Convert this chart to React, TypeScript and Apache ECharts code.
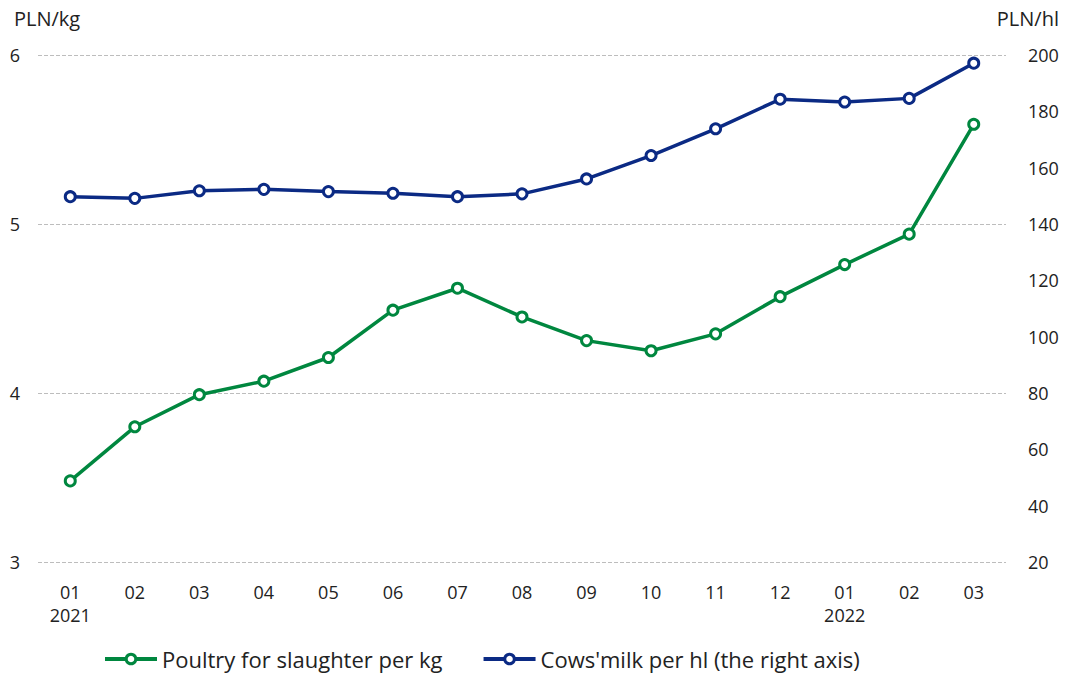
import React, { useEffect, useRef } from "react";
import * as echarts from "echarts";

const categories = ["01\n2021", "02", "03", "04", "05", "06", "07", "08", "09", "10", "11", "12", "01\n2022", "02", "03"];
const poultry = [3.48, 3.8, 3.99, 4.07, 4.21, 4.49, 4.62, 4.45, 4.31, 4.25, 4.35, 4.57, 4.76, 4.94, 5.59];
const milk = [149.7, 149.1, 151.8, 152.3, 151.5, 150.9, 149.7, 150.7, 156.0, 164.3, 173.8, 184.3, 183.3, 184.6, 197.1];
const leftName = "PLN/kg";
const rightName = "PLN/hl";
const poultryName = "Poultry for slaughter per kg";
const milkName = "Cows'milk per hl (the right axis)";

const GREEN = "#00873f";
const NAVY = "#0b2a84";
const FONT = "'Open Sans', 'Noto Sans', sans-serif";

export default function App() {
  const ref = useRef<HTMLDivElement>(null);
  useEffect(() => {
    const chart = echarts.init(ref.current!, null, { renderer: "svg" });
    chart.setOption({
      animation: false,
      backgroundColor: "#ffffff",
      textStyle: { fontFamily: FONT },
      grid: { left: 38, right: 63, top: 55, bottom: 112 },
      graphic: [
        { type: "text", left: 14, top: 8, style: { text: leftName, fontSize: 20, fill: "#222", fontFamily: FONT } },
        { type: "text", right: 10, top: 8, style: { text: rightName, fontSize: 20, fill: "#222", fontFamily: FONT } },
      ],
      legend: {
        top: 648,
        left: 103,
        padding: 0,
        itemWidth: 52,
        itemHeight: 12,
        itemGap: 39,
        textStyle: { fontSize: 22, color: "#222", fontFamily: FONT },
        lineStyle: { width: 4 },
        itemStyle: { borderWidth: 3 },
        data: [poultryName, milkName],
      },
      xAxis: {
        type: "category",
        data: categories,
        boundaryGap: true,
        axisLine: { show: false },
        axisTick: { show: false },
        axisLabel: { fontSize: 18, color: "#222", margin: 18, lineHeight: 23, fontFamily: FONT },
      },
      yAxis: [
        {
          type: "value",
          min: 3,
          max: 6,
          interval: 1,
          axisLine: { show: false },
          axisTick: { show: false },
          axisLabel: { fontSize: 18, color: "#222", margin: 18, fontFamily: FONT },
          splitLine: { lineStyle: { color: "#bdbdbd", type: [4, 2], width: 1 } },
        },
        {
          type: "value",
          min: 20,
          max: 200,
          interval: 20,
          axisLine: { show: false },
          axisTick: { show: false },
          axisLabel: { fontSize: 18, color: "#222", margin: 22, fontFamily: FONT },
          splitLine: { show: false },
        },
      ],
      series: [
        {
          name: poultryName,
          type: "line",
          data: poultry,
          yAxisIndex: 0,
          symbol: "circle",
          symbolSize: 10,
          lineStyle: { color: GREEN, width: 3.5 },
          itemStyle: { color: "#ffffff", borderColor: GREEN, borderWidth: 3 },
          z: 3,
        },
        {
          name: milkName,
          type: "line",
          data: milk,
          yAxisIndex: 1,
          symbol: "circle",
          symbolSize: 10,
          lineStyle: { color: NAVY, width: 3.5 },
          itemStyle: { color: "#ffffff", borderColor: NAVY, borderWidth: 3 },
          z: 3,
        },
      ],
    });
    return () => chart.dispose();
  }, []);
  return <div ref={ref} style={{ position: "absolute", left: 0, top: 0, width: 1069, height: 674 }} />;
}
